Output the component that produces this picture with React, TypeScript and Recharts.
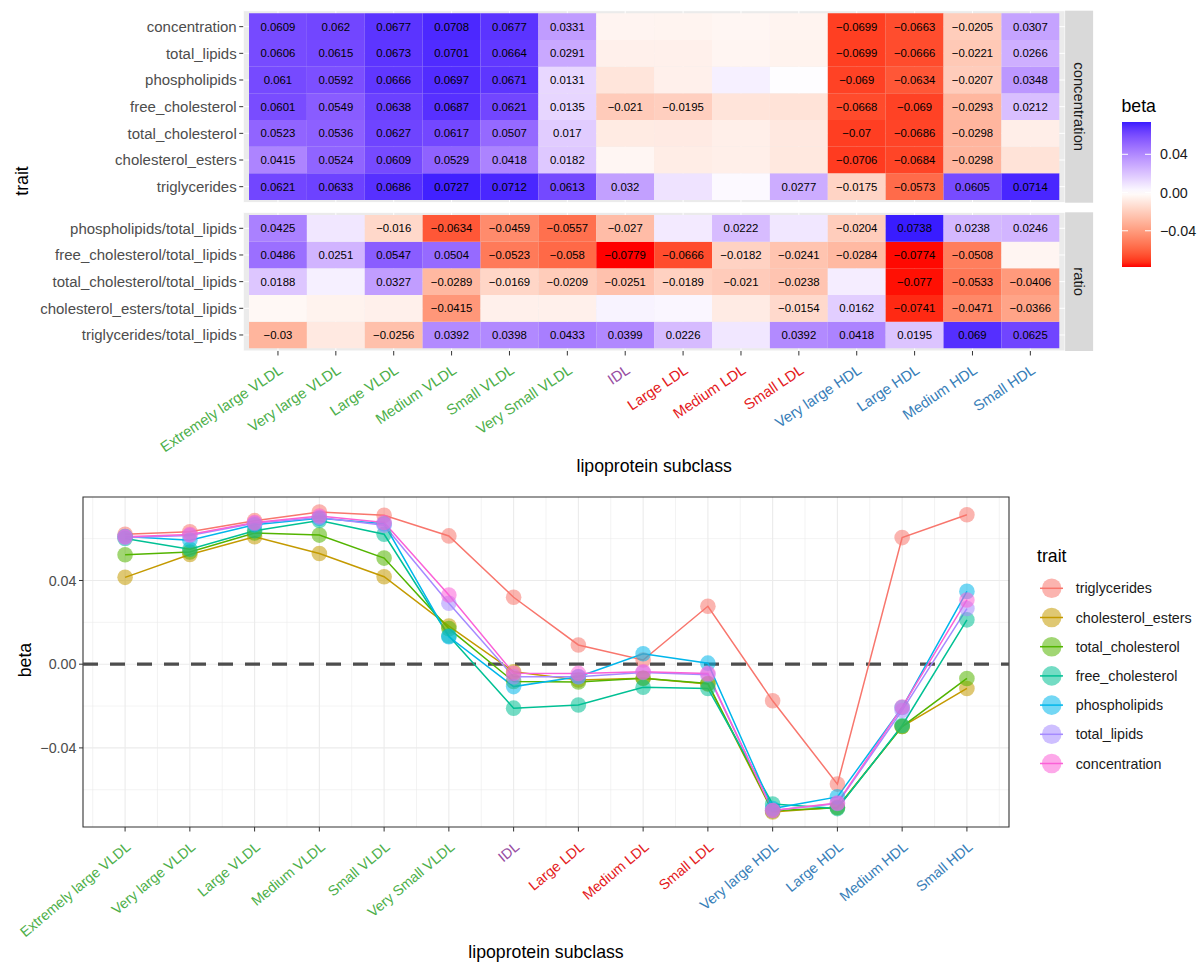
import {
  Bar,
  BarChart,
  CartesianGrid,
  Cell,
  LabelList,
  Line,
  LineChart,
  ReferenceArea,
  ReferenceLine,
  XAxis,
  YAxis,
} from "recharts";

const FONT = '"Liberation Sans", Arial, Helvetica, sans-serif';

const subclasses = [
  "Extremely large VLDL", "Very large VLDL", "Large VLDL", "Medium VLDL",
  "Small VLDL", "Very Small VLDL", "IDL", "Large LDL", "Medium LDL",
  "Small LDL", "Very large HDL", "Large HDL", "Medium HDL", "Small HDL",
];
const subclassGroups = [
  "VLDL", "VLDL", "VLDL", "VLDL", "VLDL", "VLDL", "IDL",
  "LDL", "LDL", "LDL", "HDL", "HDL", "HDL", "HDL",
];
const GROUP_COLORS: Record<string, string> = {
  VLDL: "#4DAF4A", IDL: "#984EA3", LDL: "#E41A1C", HDL: "#377EB8",
};

// concentration facet (cells without a label are estimates read off the colours / lines)
const concentration = [0.0609, 0.062, 0.0677, 0.0708, 0.0677, 0.0331, -0.0043, -0.0044, -0.0036, -0.0044, -0.0699, -0.0663, -0.0205, 0.0307];
const totalLipids = [0.0606, 0.0615, 0.0673, 0.0701, 0.0664, 0.0291, -0.006, -0.006, -0.004, -0.005, -0.0699, -0.0666, -0.0221, 0.0266];
const phospholipids = [0.061, 0.0592, 0.0666, 0.0697, 0.0671, 0.0131, -0.0107, -0.006, 0.005, 0.0005, -0.069, -0.0634, -0.0207, 0.0348];
const freeCholesterol = [0.0601, 0.0549, 0.0638, 0.0687, 0.0621, 0.0135, -0.021, -0.0195, -0.011, -0.0116, -0.0668, -0.069, -0.0293, 0.0212];
const totalCholesterol = [0.0523, 0.0536, 0.0627, 0.0617, 0.0507, 0.017, -0.0083, -0.0085, -0.0067, -0.0092, -0.07, -0.0686, -0.0298, -0.0068];
const cholesterolEsters = [0.0415, 0.0524, 0.0609, 0.0529, 0.0418, 0.0182, -0.0036, -0.0075, -0.0067, -0.0095, -0.0706, -0.0684, -0.0298, -0.0116];
const triglycerides = [0.0621, 0.0633, 0.0686, 0.0727, 0.0712, 0.0613, 0.032, 0.0092, 0.002, 0.0277, -0.0175, -0.0573, 0.0605, 0.0714];

// ratio facet
const plRatio = [0.0425, 0.008, -0.016, -0.0634, -0.0459, -0.0557, -0.027, 0.007, 0.0222, 0.008, -0.0204, 0.0738, 0.0238, 0.0246];
const fcRatio = [0.0486, 0.0251, 0.0547, 0.0504, -0.0523, -0.058, -0.0779, -0.0666, -0.0182, -0.0241, -0.0284, -0.0774, -0.0508, -0.004];
const tcRatio = [0.0188, 0.005, 0.0327, -0.0289, -0.0169, -0.0209, -0.0251, -0.0189, -0.021, -0.0238, 0.006, -0.077, -0.0533, -0.0406];
const ceRatio = [-0.003, -0.005, -0.006, -0.0415, -0.006, -0.006, 0.004, 0.003, -0.008, -0.0154, 0.0162, -0.0741, -0.0471, -0.0366];
const tgRatio = [-0.03, -0.009, -0.0256, 0.0392, 0.0398, 0.0433, 0.0399, 0.0226, 0.008, 0.0392, 0.0418, 0.0195, 0.069, 0.0625];

// cells printed without a number
const concHidden = [6, 7, 8, 9];
const tlHidden = [6, 7, 8, 9];
const plHidden = [6, 7, 8, 9];
const fcHidden = [8, 9];
const tcHidden = [6, 7, 8, 9, 13];
const ceHidden = [6, 7, 8, 9, 13];
const tgHidden = [7, 8];
const plRatioHidden = [1, 7, 9];
const fcRatioHidden = [13];
const tcRatioHidden = [1, 10];
const ceRatioHidden = [0, 1, 2, 4, 5, 6, 7, 8];
const tgRatioHidden = [1, 8];

const betaTicks = [-0.04, 0, 0.04];
const BETA_LIMITS = [-0.0779, 0.0738];

const concRows = [
  { trait: "concentration", values: concentration, hidden: concHidden },
  { trait: "total_lipids", values: totalLipids, hidden: tlHidden },
  { trait: "phospholipids", values: phospholipids, hidden: plHidden },
  { trait: "free_cholesterol", values: freeCholesterol, hidden: fcHidden },
  { trait: "total_cholesterol", values: totalCholesterol, hidden: tcHidden },
  { trait: "cholesterol_esters", values: cholesterolEsters, hidden: ceHidden },
  { trait: "triglycerides", values: triglycerides, hidden: tgHidden },
];
const ratioRows = [
  { trait: "phospholipids/total_lipids", values: plRatio, hidden: plRatioHidden },
  { trait: "free_cholesterol/total_lipids", values: fcRatio, hidden: fcRatioHidden },
  { trait: "total_cholesterol/total_lipids", values: tcRatio, hidden: tcRatioHidden },
  { trait: "cholesterol_esters/total_lipids", values: ceRatio, hidden: ceRatioHidden },
  { trait: "triglycerides/total_lipids", values: tgRatio, hidden: tgRatioHidden },
];

const lineTraits = [
  { trait: "triglycerides", values: triglycerides, color: "#F8766D" },
  { trait: "cholesterol_esters", values: cholesterolEsters, color: "#C49A00" },
  { trait: "total_cholesterol", values: totalCholesterol, color: "#53B400" },
  { trait: "free_cholesterol", values: freeCholesterol, color: "#00C094" },
  { trait: "phospholipids", values: phospholipids, color: "#00B6EB" },
  { trait: "total_lipids", values: totalLipids, color: "#A58AFF" },
  { trait: "concentration", values: concentration, color: "#FB61D7" },
];

// ---- colour scale (ggplot gradient2 red-white-blue, Lab interpolation)
const toLin = (c: number) => {
  const v = c / 255;
  return v <= 0.04045 ? v / 12.92 : Math.pow((v + 0.055) / 1.055, 2.4);
};
const fromLin = (c: number) => {
  const v = c <= 0.0031308 ? 12.92 * c : 1.055 * Math.pow(c, 1 / 2.4) - 0.055;
  return Math.round(Math.max(0, Math.min(1, v)) * 255);
};
function rgbToLab([r, g, b]: number[]) {
  const R = toLin(r), G = toLin(g), B = toLin(b);
  const X = (0.4124 * R + 0.3576 * G + 0.1805 * B) / 0.95047;
  const Y = 0.2126 * R + 0.7152 * G + 0.0722 * B;
  const Z = (0.0193 * R + 0.1192 * G + 0.9505 * B) / 1.08883;
  const f = (t: number) => (t > 0.008856 ? Math.cbrt(t) : 7.787 * t + 16 / 116);
  const fx = f(X), fy = f(Y), fz = f(Z);
  return [116 * fy - 16, 500 * (fx - fy), 200 * (fy - fz)];
}
function labToHex([L, a, b]: number[]) {
  const fy = (L + 16) / 116, fx = fy + a / 500, fz = fy - b / 200;
  const inv = (t: number) => (t ** 3 > 0.008856 ? t ** 3 : (t - 16 / 116) / 7.787);
  const X = inv(fx) * 0.95047, Y = inv(fy), Z = inv(fz) * 1.08883;
  const R = 3.2406 * X - 1.5372 * Y - 0.4986 * Z;
  const G = -0.9689 * X + 1.8758 * Y + 0.0415 * Z;
  const B = 0.0557 * X - 0.204 * Y + 1.057 * Z;
  return "#" + [R, G, B].map((c) => fromLin(c).toString(16).padStart(2, "0")).join("");
}
const LAB_RED = rgbToLab([255, 0, 0]);
const LAB_WHITE = rgbToLab([255, 255, 255]);
const LAB_BLUE = rgbToLab([0, 0, 255]);
const MAX_ABS = Math.max(Math.abs(BETA_LIMITS[0]), Math.abs(BETA_LIMITS[1]));

function betaFill(v: number) {
  const t = Math.max(-1, Math.min(1, v / MAX_ABS));
  const end = t >= 0 ? LAB_BLUE : LAB_RED;
  const k = Math.abs(t);
  return labToHex(LAB_WHITE.map((w, i) => w + (end[i] - w) * k));
}

const fmtBeta = (v: number) => String(Number(v.toPrecision(3))).replace("-", "\u2212");

// ---- layout
const TILE_W = 57.88;
const TILE_H = 26.67;
const TILES_LEFT = 249;
const PAD_X = 0.1 * TILE_W;
const HM_W = 1100;
const HM_Y_W = TILES_LEFT - PAD_X;
const HM_RIGHT = HM_W - (TILES_LEFT + 14 * TILE_W + PAD_X);
const PANEL_R = TILES_LEFT + 14 * TILE_W + PAD_X;

function SubclassTick(props: any) {
  const { x, y, payload, rot, offset, size } = props;
  const idx = typeof payload.value === "number" ? payload.value - 1 : subclasses.indexOf(payload.value);
  if (idx < 0 || idx >= subclasses.length) return null;
  return (
    <g transform={`translate(${x},${y + offset}) rotate(${-rot})`}>
      <text
        x={0}
        y={0}
        dy="0.72em"
        textAnchor="end"
        fill={GROUP_COLORS[subclassGroups[idx]]}
        fontSize={size}
        fontFamily={FONT}
      >
        {subclasses[idx]}
      </text>
    </g>
  );
}

function HeatFacet({ rows, top, marginTop, showX }: any) {
  const bottomUp = [...rows].reverse();
  const n = rows.length;
  const panelH = (n + 0.2) * TILE_H;
  const xAxisH = showX ? 129 : 0;
  const height = marginTop + panelH + (showX ? xAxisH : 7.33);
  const data = subclasses.map((s) => {
    const d: any = { subclass: s };
    bottomUp.forEach((r: any) => (d[r.trait] = 1));
    return d;
  });
  const ticks = bottomUp.map((_: any, i: number) => i + 0.5);

  const tileLabel = (r: any) => (p: any) => {
    const vb = p.viewBox ?? p;
    const x = vb.x ?? p.x, y = vb.y ?? p.y, w = vb.width ?? p.width, h = vb.height ?? p.height;
    const index = p.index;
    if (index == null || r.hidden.includes(index)) return null;
    return (
      <text
        x={x + w / 2}
        y={y + h / 2}
        dy="0.36em"
        textAnchor="middle"
        fontSize={11.4}
        fontFamily={FONT}
        fill="#000000"
      >
        {fmtBeta(r.values[index])}
      </text>
    );
  };

  return (
    <div style={{ position: "absolute", left: 0, top, width: HM_W, height }}>
      <BarChart
        width={HM_W}
        height={height}
        data={data}
        margin={{ top: marginTop, right: HM_RIGHT, bottom: showX ? 0 : 7.33, left: 0 }}
        barCategoryGap={0}
        barGap={0}
      >
        <CartesianGrid fill="#EBEBEB" stroke="#FFFFFF" strokeWidth={1} />
        <XAxis
          dataKey="subclass"
          type="category"
          hide={!showX}
          height={xAxisH}
          interval={0}
          padding={{ left: PAD_X, right: PAD_X }}
          axisLine={false}
          tickSize={4.5}
          tickLine={{ stroke: "#333333" }}
          tick={(p: any) => <SubclassTick {...p} rot={34} offset={6} size={14.8} />}
        />
        <YAxis
          type="number"
          domain={[-0.1, n + 0.1]}
          allowDataOverflow
          ticks={ticks}
          interval={0}
          width={HM_Y_W}
          tickFormatter={(v: number) => bottomUp[Math.floor(v)].trait}
          axisLine={false}
          tickSize={4}
          tickMargin={2.5}
          tickLine={{ stroke: "#333333" }}
          tick={{ fill: "#4D4D4D", fontSize: 15, fontFamily: FONT }}
        />
        {bottomUp.map((r: any) => (
          <Bar
            key={r.trait}
            dataKey={r.trait}
            stackId="tiles"
            barSize={TILE_W}
            isAnimationActive={false}
          >
            {r.values.map((v: number, i: number) => (
              <Cell key={i} fill={betaFill(v)} />
            ))}
            <LabelList dataKey={r.trait} content={tileLabel(r)} />
          </Bar>
        ))}
      </BarChart>
    </div>
  );
}

const lineData = subclasses.map((s, i) => {
  const d: any = { pos: i + 1, subclass: s };
  lineTraits.forEach((t) => (d[t.trait] = t.values[i]));
  return d;
});

const LINE_X_DOMAIN = [0.35, 14.65];
const LINE_Y_DOMAIN = [-0.0778, 0.0799];
const majorX = subclasses.map((_, i) => i + 1);
const minorX = [0, ...majorX].map((v) => v + 0.5);
const majorY = [-0.04, 0, 0.04];
const minorY = [-0.06, -0.02, 0.02, 0.06];

function LinePanel() {
  return (
    <div style={{ position: "absolute", left: 0, top: 480, width: 1020, height: 483 }}>
      <LineChart
        width={1020}
        height={483}
        data={lineData}
        margin={{ top: 17, right: 11, bottom: 0, left: 0 }}
      >
        <CartesianGrid
          stroke="#EBEBEB"
          strokeWidth={0.6}
          verticalValues={minorX}
          horizontalValues={minorY}
        />
        <CartesianGrid
          stroke="#EBEBEB"
          strokeWidth={1.1}
          verticalValues={majorX}
          horizontalValues={majorY}
        />
        <XAxis
          dataKey="pos"
          type="number"
          domain={LINE_X_DOMAIN}
          allowDataOverflow
          ticks={majorX}
          interval={0}
          height={136}
          axisLine={false}
          tickSize={4.5}
          tickLine={{ stroke: "#333333" }}
          tick={(p: any) => <SubclassTick {...p} rot={40} offset={7} size={14.3} />}
        />
        <YAxis
          type="number"
          domain={LINE_Y_DOMAIN}
          allowDataOverflow
          ticks={betaTicks}
          interval={0}
          width={83}
          axisLine={false}
          tickSize={4}
          tickMargin={2.5}
          tickLine={{ stroke: "#333333" }}
          tickFormatter={(v: number) => v.toFixed(2).replace("-", "\u2212")}
          tick={{ fill: "#4D4D4D", fontSize: 14.3, fontFamily: FONT }}
        />
        <ReferenceLine
          y={0}
          stroke="#4D4D4D"
          strokeWidth={3.2}
          strokeDasharray="15 12"
          isFront={false}
        />
        {lineTraits.map((t) => (
          <Line
            key={t.trait}
            type="linear"
            dataKey={t.trait}
            stroke={t.color}
            strokeWidth={1.5}
            dot={{ r: 7.8, fill: t.color, fillOpacity: 0.55, stroke: "none", strokeWidth: 0 }}
            activeDot={false}
            isAnimationActive={false}
          />
        ))}
        <ReferenceArea
          x1={LINE_X_DOMAIN[0]}
          x2={LINE_X_DOMAIN[1]}
          y1={LINE_Y_DOMAIN[0]}
          y2={LINE_Y_DOMAIN[1]}
          fill="none"
          fillOpacity={0}
          stroke="#333333"
          strokeWidth={1.1}
          ifOverflow="visible"
        />
      </LineChart>
    </div>
  );
}

function Overlay() {
  const barX = 1122, barY = 122, barW = 29, barH = 145;
  const [lo, hi] = BETA_LIMITS;
  const yOf = (v: number) => barY + barH - ((v - lo) / (hi - lo)) * barH;
  const stops = Array.from({ length: 31 }, (_, i) => lo + ((hi - lo) * i) / 30);
  const topPanel = [10.67, 10.67 + 7.2 * TILE_H];
  const botPanel = [212.3, 212.3 + 5.2 * TILE_H];
  return (
    <svg
      width={1198}
      height={963}
      style={{ position: "absolute", left: 0, top: 0, pointerEvents: "none" }}
      fontFamily={FONT}
    >
      <defs>
        <linearGradient id="betaGrad" x1="0" y1="1" x2="0" y2="0">
          {stops.map((v, i) => (
            <stop key={i} offset={`${(i / 30) * 100}%`} stopColor={betaFill(v)} />
          ))}
        </linearGradient>
      </defs>

      {/* facet strips */}
      <rect x={PANEL_R} y={topPanel[0]} width={28} height={topPanel[1] - topPanel[0]} fill="#D9D9D9" />
      <text
        transform={`translate(${PANEL_R + 14},${(topPanel[0] + topPanel[1]) / 2}) rotate(90)`}
        textAnchor="middle"
        dy="0.35em"
        fontSize={14.8}
        fill="#1A1A1A"
      >
        concentration
      </text>
      <rect x={PANEL_R} y={botPanel[0]} width={28} height={botPanel[1] - botPanel[0]} fill="#D9D9D9" />
      <text
        transform={`translate(${PANEL_R + 14},${(botPanel[0] + botPanel[1]) / 2}) rotate(90)`}
        textAnchor="middle"
        dy="0.35em"
        fontSize={14.8}
        fill="#1A1A1A"
      >
        ratio
      </text>

      {/* heatmap titles */}
      <text transform="translate(28,181) rotate(-90)" textAnchor="middle" fontSize={17.7} fill="#000">
        trait
      </text>
      <text x={(HM_Y_W + PANEL_R) / 2} y={472} textAnchor="middle" fontSize={17.7} fill="#000">
        lipoprotein subclass
      </text>

      {/* colourbar legend */}
      <text x={1121.5} y={111.5} fontSize={17.7} fill="#000">beta</text>
      <rect x={barX} y={barY} width={barW} height={barH} fill="url(#betaGrad)" />
      {betaTicks.map((v) => (
        <g key={v}>
          <line x1={barX} x2={barX + 6} y1={yOf(v)} y2={yOf(v)} stroke="#FFFFFF" strokeWidth={1} />
          <line x1={barX + barW - 6} x2={barX + barW} y1={yOf(v)} y2={yOf(v)} stroke="#FFFFFF" strokeWidth={1} />
          <text x={1160} y={yOf(v)} dy="0.36em" fontSize={14.3} fill="#1A1A1A">
            {v.toFixed(2).replace("-", "\u2212")}
          </text>
        </g>
      ))}

      {/* line chart titles */}
      <text transform="translate(31,660) rotate(-90)" textAnchor="middle" fontSize={17.7} fill="#000">
        beta
      </text>
      <text x={546} y={958} textAnchor="middle" fontSize={17.7} fill="#000">
        lipoprotein subclass
      </text>

      {/* line chart legend */}
      <text x={1037} y={562} fontSize={17.7} fill="#000">trait</text>
      {lineTraits.map((t, i) => {
        const cy = 588.3 + i * 29.2;
        return (
          <g key={t.trait}>
            <line x1={1040} x2={1063} y1={cy} y2={cy} stroke={t.color} strokeWidth={1.5} />
            <circle cx={1051.7} cy={cy} r={9.8} fill={t.color} fillOpacity={0.55} />
            <text x={1075.7} y={cy} dy="0.36em" fontSize={14.3} fill="#1A1A1A">
              {t.trait}
            </text>
          </g>
        );
      })}
    </svg>
  );
}

export default function App() {
  return (
    <div
      style={{
        position: "absolute",
        left: 0,
        top: 0,
        width: 1198,
        height: 963,
        background: "#FFFFFF",
        fontFamily: FONT,
        overflow: "hidden",
      }}
    >
      <HeatFacet rows={concRows} top={0} marginTop={10.67} showX={false} />
      <HeatFacet rows={ratioRows} top={205} marginTop={7.3} showX />
      <LinePanel />
      <Overlay />
    </div>
  );
}
